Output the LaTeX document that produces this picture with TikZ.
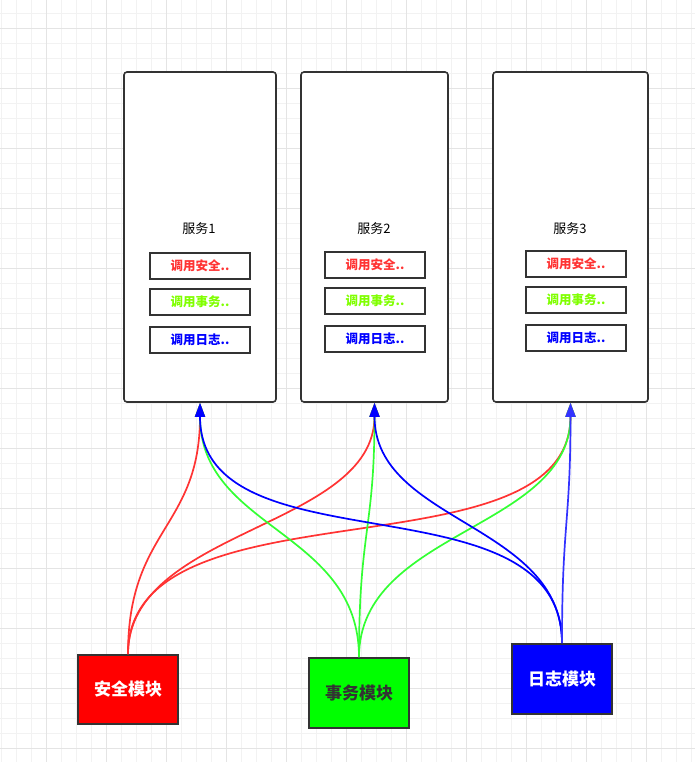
\documentclass[tikz,border=0pt]{standalone}
\usepackage{fontspec}
\newfontfamily\cjk{Noto Sans CJK SC}
\usetikzlibrary{arrows.meta,calc}
\definecolor{edgegray}{HTML}{333333}
\definecolor{linered}{HTML}{FF3333}
\definecolor{linegreen}{HTML}{33FF33}
\definecolor{lineblue}{HTML}{0000FF}
\definecolor{lineblueb}{HTML}{3333FF}
\definecolor{txtgreen}{HTML}{80FF00}
\definecolor{gridminor}{HTML}{F2F2F2}
\definecolor{gridmajor}{HTML}{E4E4E4}
\tikzset{
  svcbox/.style={draw=edgegray,line width=1.6pt,rounded corners=3pt,fill=white},
  svctitle/.style={font=\cjk\fontsize{13}{15}\selectfont},
  callbox/.style={draw=edgegray,line width=1.6pt,minimum width=100pt,minimum height=26pt,inner sep=0pt,font=\cjk\bfseries\fontsize{12.5}{14}\selectfont},
  modbox/.style={draw=edgegray,line width=1.6pt,minimum width=100pt,minimum height=70pt,inner sep=0pt,font=\cjk\bfseries\fontsize{17}{19}\selectfont},
  link/.style={line width=1.7pt,-{Triangle[width=10pt,length=14pt]}}
}
% curved link: vertical tangents at both ends, #1 = how far the control points reach (1 = mid height)
\newcommand{\curvelink}[4][1]{%
  \draw[link,#2] let \p1=(#3.north), \p2=(#4.south),
    \p3=($(\p1)!#1*0.5!(\p2)$), \p4=($(\p2)!#1*0.5!(\p1)$) in
    (\p1) .. controls (\x1,\y3) and (\x2,\y4) .. (\p2);}
\begin{document}
\begin{tikzpicture}[x=1pt,y=-1pt]
		\useasboundingbox (0,0) rectangle (695,762);
		\fill[white] (0,0) rectangle (695,762);
		\foreach \gx in {1.7,16.7,...,695} \draw[gridminor,line width=1pt] (\gx,0) -- (\gx,762);
		\foreach \gy in {13.3,28.3,...,762} \draw[gridminor,line width=1pt] (0,\gy) -- (695,\gy);
		\foreach \gx in {46.7,106.7,...,695} \draw[gridmajor,line width=1pt] (\gx,0) -- (\gx,762);
		\foreach \gy in {28.3,88.3,...,762} \draw[gridmajor,line width=1pt] (0,\gy) -- (695,\gy);
		% services
		\node[svcbox,minimum width=152pt,minimum height=330pt] (s1) at (200,237) {};
		\node[svcbox,minimum width=147pt,minimum height=330pt] (s2) at (374.5,237) {};
		\node[svcbox,minimum width=155pt,minimum height=330pt] (s3) at (570.5,237) {};
		\node[svctitle] (t1) at (199,229) {服务1};
		\node[svctitle] (t2) at (374,229) {服务2};
		\node[svctitle] (t3) at (570,229) {服务3};
		\node[callbox,text=linered] (c1a) at (200,266) {调用安全..};
		\node[callbox,text=txtgreen] (c1b) at (200,302) {调用事务..};
		\node[callbox,text=lineblue] (c1c) at (200,340) {调用日志..};
		\node[callbox,text=linered] (c2a) at (375,265) {调用安全..};
		\node[callbox,text=txtgreen] (c2b) at (375,301) {调用事务..};
		\node[callbox,text=lineblue] (c2c) at (375,339) {调用日志..};
		\node[callbox,text=linered] (c3a) at (576,264) {调用安全..};
		\node[callbox,text=txtgreen] (c3b) at (576,300) {调用事务..};
		\node[callbox,text=lineblue] (c3c) at (576,338) {调用日志..};
		% modules
		\node[modbox,fill=red,text=white,minimum height=69pt] (sec) at (128,689.5) {安全模块};
		\node[modbox,fill=green,text=edgegray] (tx) at (359,693) {事务模块};
		\node[modbox,fill=blue,text=white] (log) at (562,679) {日志模块};
		% links
		\curvelink{linered}{sec}{s1}
		\curvelink{linered}{sec}{s2}
		\curvelink[1.42]{linered}{sec}{s3}
		\curvelink{linegreen}{tx}{s1}
		\curvelink{linegreen}{tx}{s2}
		\curvelink{linegreen}{tx}{s3}
		\curvelink[1.42]{lineblue}{log}{s1}
		\curvelink{lineblue}{log}{s2}
		\curvelink{lineblueb}{log}{s3}
\end{tikzpicture}
\end{document}
